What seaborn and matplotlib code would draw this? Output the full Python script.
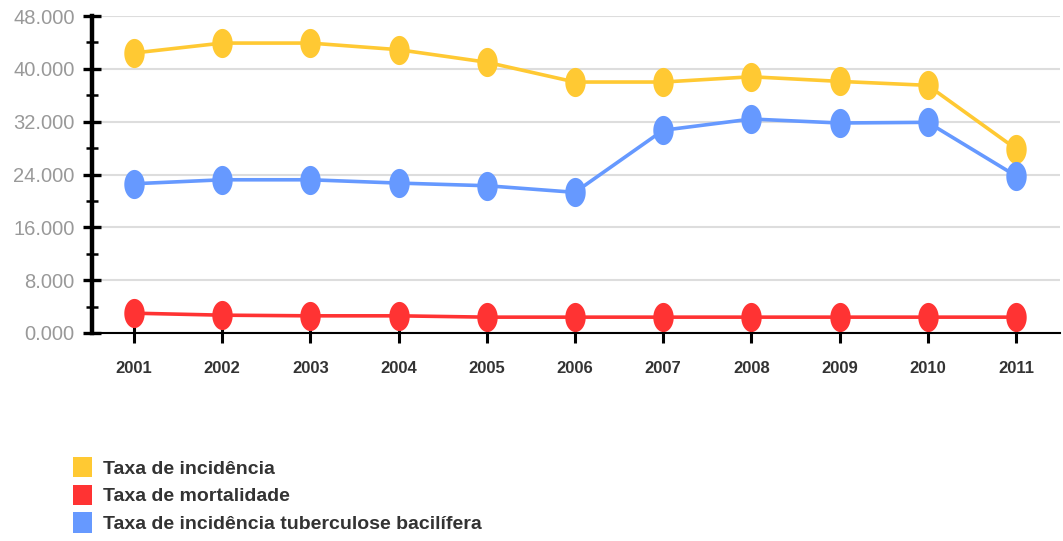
import numpy as np
import pandas as pd
import matplotlib
matplotlib.use("Agg")
import matplotlib.pyplot as plt
from matplotlib.path import Path
from matplotlib.patches import Patch
from matplotlib.ticker import MultipleLocator
import seaborn as sns

# Series values (per 100 000 inhabitants), 2001-2011
anos = [2001, 2002, 2003, 2004, 2005, 2006, 2007, 2008, 2009, 2010, 2011]
taxa_incidencia = [42.4, 43.9, 43.9, 42.9, 41.0, 38.0, 38.0, 38.8, 38.1, 37.5, 27.9]
taxa_mortalidade = [3.0, 2.7, 2.6, 2.6, 2.4, 2.4, 2.4, 2.4, 2.4, 2.4, 2.4]
taxa_bacilifera = [22.6, 23.2, 23.2, 22.7, 22.3, 21.3, 30.7, 32.4, 31.8, 31.9, 23.8]

series = ["Taxa de incidência", "Taxa de mortalidade",
          "Taxa de incidência tuberculose bacilífera"]
cores = ["#FFC933", "#FF3333", "#6699FF"]
y_ticks = [0, 8, 16, 24, 32, 40, 48]
y_labels = ["0.000", "8.000", "16.000", "24.000", "32.000", "40.000", "48.000"]

df = pd.DataFrame({
    "ano": anos * 3,
    "valor": taxa_incidencia + taxa_mortalidade + taxa_bacilifera,
    "serie": [series[0]] * len(anos) + [series[1]] * len(anos) + [series[2]] * len(anos),
})

sns.set_style("white")
fonte = ["Liberation Sans", "DejaVu Sans"]
plt.rcParams["font.family"] = fonte

fig = plt.figure(figsize=(10.63, 5.41), dpi=100)
ax = fig.add_axes([92 / 1063, 1 - 333 / 541, (1060 - 92) / 1063, (333 - 16) / 541])

# tall elliptical marker
t = np.linspace(0, 2 * np.pi, 64)
ellipse = Path(np.column_stack([0.7 * np.cos(t), np.sin(t)]))

sns.lineplot(data=df, x="ano", y="valor", hue="serie", hue_order=series,
             palette=cores, marker=ellipse, markersize=21, markeredgewidth=0,
             linewidth=2.6, legend=False, ax=ax, zorder=3)

ax.set_xlim(2001 - 0.476, 2011 + 0.5)
ax.set_ylim(0, 48)
ax.set_xticks(anos)
ax.set_xticklabels([str(a) for a in anos], fontsize=12, fontweight="bold", color="#333333")
ax.set_yticks(y_ticks)
ax.set_yticklabels(y_labels, fontsize=14.5, color="#999999")
ax.yaxis.set_minor_locator(MultipleLocator(4))
ax.set_xlabel("")
ax.set_ylabel("")

ax.grid(axis="y", color="#dddddd", linewidth=1.5, zorder=0)
ax.grid(axis="x", visible=False)
for s in ("top", "right"):
    ax.spines[s].set_visible(False)
ax.spines["left"].set_linewidth(3.2)
ax.spines["left"].set_color("black")
ax.spines["left"].set_zorder(5)
ax.spines["bottom"].set_linewidth(1.5)
ax.spines["bottom"].set_color("black")
ax.spines["bottom"].set_zorder(5)

ax.tick_params(axis="y", which="both", left=True)
ax.tick_params(axis="x", which="both", bottom=True)
ax.tick_params(axis="y", which="major", direction="inout", length=13, width=2.4,
               color="black", pad=6)
ax.tick_params(axis="y", which="minor", direction="inout", length=8, width=1.8,
               color="black")
ax.tick_params(axis="x", which="major", direction="inout", length=15, width=2.2,
               color="black", pad=13)

handles = [Patch(facecolor=c, edgecolor="none") for c in cores]
fig.legend(handles, series, loc="upper left", bbox_to_anchor=(65 / 1063, 1 - 449 / 541),
           frameon=False, handlelength=1.0, handleheight=1.25, handletextpad=0.55,
           labelspacing=0.36, borderaxespad=0,
           prop={"family": fonte, "size": 14, "weight": "bold"},
           labelcolor="#333333")

fig.savefig("out.png", dpi=100)
